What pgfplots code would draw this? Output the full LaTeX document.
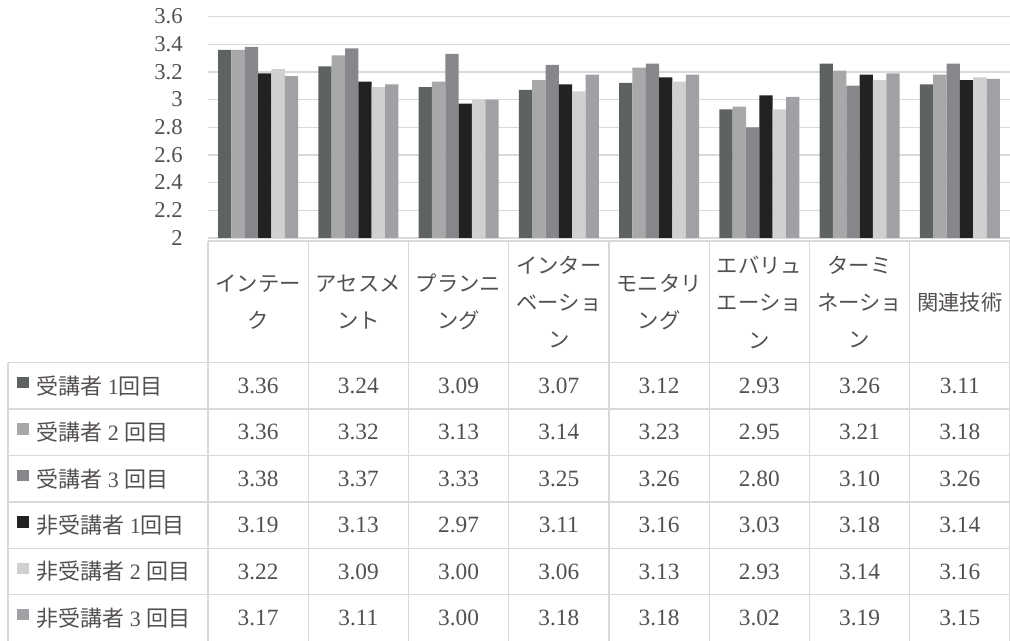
\documentclass[border=0pt]{standalone}
\usepackage{pgfplots}
\usepackage{pgfplotstable}
\pgfplotsset{compat=1.18}
\usepackage{fontspec}
\setmainfont{Liberation Serif}
\newfontfamily\jp{Noto Sans CJK JP}
\definecolor{c1}{RGB}{95,98,99}
\definecolor{c2}{RGB}{167,168,170}
\definecolor{c3}{RGB}{134,135,139}
\definecolor{c4}{RGB}{34,34,34}
\definecolor{c5}{RGB}{208,208,208}
\definecolor{c6}{RGB}{160,161,165}
\definecolor{gridc}{RGB}{217,217,217}
\definecolor{txt}{RGB}{85,80,80}
\pgfplotstableread{
x s1 s2 s3 s4 s5 s6
0 3.36 3.36 3.38 3.19 3.22 3.17
1 3.24 3.32 3.37 3.13 3.09 3.11
2 3.09 3.13 3.33 2.97 3.00 3.00
3 3.07 3.14 3.25 3.11 3.06 3.18
4 3.12 3.23 3.26 3.16 3.13 3.18
5 2.93 2.95 2.80 3.03 2.93 3.02
6 3.26 3.21 3.10 3.18 3.14 3.19
7 3.11 3.18 3.26 3.14 3.16 3.15
}\data
\begin{document}
\begin{tikzpicture}
\useasboundingbox (0,0) rectangle (757.5pt,480pt);
\begin{axis}[
  at={(156pt,301.5pt)}, anchor=south west,
  scale only axis, width=601.5pt, height=166.1pt,
  xmin=-0.5, xmax=7.5, ymin=2, ymax=3.6,
  ytick={2,2.2,2.4,2.6,2.8,3,3.2,3.4,3.6},
  xtick=\empty,
  ymajorgrids, grid style={color=gridc, line width=1pt},
  axis line style={draw=none},
  major tick length=0pt,
  ybar=0pt, bar width=10pt,
  /pgf/number format/assume math mode=true,
  yticklabel style={anchor=east, inner sep=0pt, xshift=-18.75pt, text=txt,
    font=\fontsize{17pt}{18pt}\selectfont},
]
\addplot[fill=c1, draw=none] table[x=x,y=s1]{\data};
\addplot[fill=c2, draw=none] table[x=x,y=s2]{\data};
\addplot[fill=c3, draw=none] table[x=x,y=s3]{\data};
\addplot[fill=c4, draw=none] table[x=x,y=s4]{\data};
\addplot[fill=c5, draw=none] table[x=x,y=s5]{\data};
\addplot[fill=c6, draw=none] table[x=x,y=s6]{\data};
\end{axis}
\begin{scope}[x=0.75pt,y=-0.75pt,shift={(0pt,480pt)}]
  \begin{scope}[draw=gridc, line width=1pt]
    \draw (208,241) -- (1010,241);
    \foreach \k in {0,...,5} \draw (8,{362.7+46.4*\k}) -- (1010,{362.7+46.4*\k});
    \draw (8,362.7) -- (8,641);
    \foreach \i in {0,...,8} \draw ({208+100.25*\i},241) -- ({208+100.25*\i},641);
  \end{scope}
  \foreach \h [count=\i from 0] in {{インテー\\ク},{アセスメ\\ント},{プランニ\\ング},{インター\\ベーショ\\ン},{モニタリ\\ング},{エバリュ\\エーショ\\ン},{ターミ\\ネーショ\\ン},{関連技術}}
    \node[align=center, text=txt, inner sep=0pt, font=\jp\fontsize{16pt}{28.1pt}\selectfont] at ({208+100.25*(\i+0.5)},302) {\h};
  \foreach \l [count=\k] in {{{\jp 受講者} 1{\jp 回目}},{{\jp 受講者} 2\hspace{4pt}{\jp 回目}},{{\jp 受講者} 3\hspace{4pt}{\jp 回目}},{{\jp 非受講者} 1{\jp 回目}},{{\jp 非受講者} 2\hspace{4pt}{\jp 回目}},{{\jp 非受講者} 3\hspace{4pt}{\jp 回目}}} {
    \pgfmathsetmacro\rc{362.7+46.4*(\k-0.5)}
    \fill[c\k] (17,\rc-9) rectangle (29,\rc+2.5);
    \node[anchor=west, inner sep=0pt, text=txt, font=\fontsize{16.5pt}{18pt}\selectfont] at (36,\rc) {\l};
  }
  \foreach \r in {0,...,7} {
    \foreach \s [count=\k] in {s1,s2,s3,s4,s5,s6} {
      \pgfplotstablegetelem{\r}{\s}\of\data
      \node[inner sep=0pt, text=txt, font=\fontsize{17.5pt}{18pt}\selectfont] at ({208+100.25*(\r+0.5)},{362.7+46.4*(\k-0.5)}) {\pgfplotsretval};
    }
  }
\end{scope}
\end{tikzpicture}
\end{document}
